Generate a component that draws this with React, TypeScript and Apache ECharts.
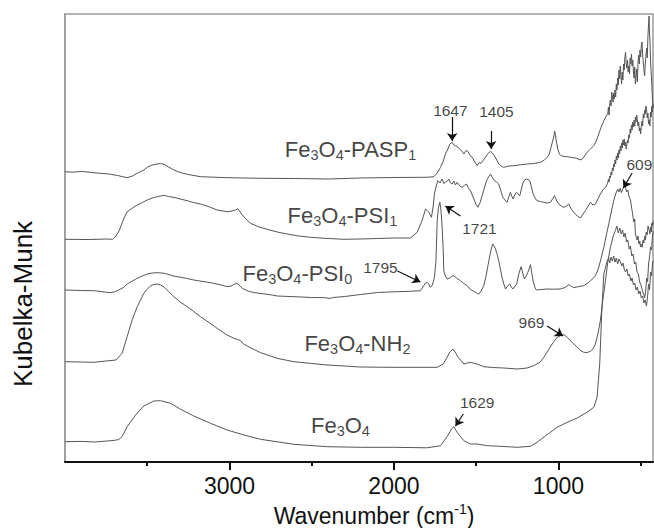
import React, { useEffect, useRef } from "react";
import * as echarts from "echarts";

const FONT = "'Liberation Sans', Arial, Helvetica, sans-serif";

// x axis (wavenumber, reversed)
const X_MIN = 425;
const X_MAX = 4000;
const MAJOR_TICKS = [1000, 2000, 3000];
const MINOR_TICKS = [500, 1500, 2500, 3500];
const Y_MAX = 448;

// spectra: [wavenumber, Kubelka-Munk (offset, arb. units)]
const fe3o4: [number, number][] = [
  [4000, 20.3], [3900, 20.6], [3820, 20.0], [3730, 21.2], [3693, 21.8], [3673, 22.5], [3653, 25.3], [3622, 35.3],
  [3571, 47], [3521, 56], [3460, 61], [3419, 61.3], [3358, 58.7], [3297, 52.7], [3217, 46], [3115, 38.7],
  [3014, 32], [2912, 27], [2811, 22.7], [2609, 17.7], [2406, 15.3], [2204, 14.7], [2001, 14.7], [1798, 14.2],
  [1717, 16.3], [1677, 25.3], [1650, 33], [1636, 35.3], [1616, 29.7], [1575, 21.3], [1535, 18], [1494, 18],
  [1433, 16.3], [1353, 15.7], [1251, 14.7], [1170, 15.7], [1130, 19.7], [1069, 27.3], [1008, 34.7], [947, 39.7],
  [886, 44], [826, 49.7], [785, 54.7], [765, 64.7], [749, 98], [737, 148], [724, 188], [704, 201],
  [695, 204], [688, 199], [680, 205], [672, 201], [664, 206], [656, 200], [648, 204], [640, 198],
  [632, 203], [623, 200], [615, 196], [607, 199], [600, 193], [592, 190], [584, 193], [576, 186],
  [568, 188], [560, 181], [552, 184], [544, 177], [536, 179], [528, 172], [520, 175], [512, 168],
  [504, 171], [496, 164], [488, 166], [480, 159], [472, 162], [465, 156], [458, 165], [452, 178],
  [446, 172], [440, 190], [434, 186], [428, 198], [424, 201],
];

const nh2: [number, number][] = [
  [4000, 100.3], [3900, 100], [3825, 99.7], [3750, 101], [3690, 102], [3653, 108.7], [3622, 125.3], [3592, 142],
  [3561, 155.3], [3521, 168.7], [3500, 173], [3480, 176], [3460, 177.5], [3440, 178], [3420, 177], [3399, 175.3],
  [3370, 170.5], [3338, 165.3], [3300, 160], [3257, 155.3], [3217, 150.5], [3176, 145.3], [3120, 139], [3075, 133.7],
  [3020, 127.5], [2973, 123.7], [2950, 122.5], [2932, 121.3], [2915, 118], [2892, 116], [2850, 112.5], [2811, 109.3],
  [2760, 106.5], [2710, 103.7], [2609, 100.3], [2500, 98.5], [2406, 97], [2300, 96], [2204, 95], [2100, 94.8],
  [2000, 94.7], [1850, 94.7], [1737, 94.7], [1700, 98], [1677, 104.7], [1660, 110], [1641, 113], [1625, 109],
  [1610, 104.7], [1585, 100], [1575, 98], [1555, 99], [1535, 99.7], [1515, 98.8], [1494, 98], [1454, 95.3],
  [1400, 94.5], [1333, 94], [1251, 93], [1191, 94], [1150, 96.3], [1110, 100], [1089, 104.7], [1065, 111],
  [1038, 118], [1012, 124], [988, 126.3], [972, 127.3], [963, 127], [945, 124.5], [927, 121.3], [906, 118],
  [886, 114.7], [866, 111.5], [846, 109.7], [826, 109.5], [805, 110.7], [790, 113], [775, 118], [760, 128],
  [745, 141.3], [730, 162], [714, 181.3], [700, 200], [684, 214.7], [670, 224], [660, 229], [654, 231.3],
  [645, 236], [636, 229], [627, 234], [618, 228], [610, 232], [602, 225], [594, 229], [586, 220],
  [578, 222], [570, 213], [562, 216], [554, 206], [546, 208], [538, 198], [530, 200], [522, 190],
  [514, 188], [506, 180], [498, 177], [490, 172], [482, 168], [476, 164], [470, 170], [464, 184],
  [458, 180], [452, 198], [446, 205], [440, 215], [434, 212], [428, 226], [424, 231],
];

const psi0: [number, number][] = [
  [4000, 172], [3900, 171.5], [3825, 171.3], [3780, 170.5], [3731, 169.3], [3700, 170], [3673, 172], [3640, 175],
  [3622, 178], [3590, 181], [3561, 183.7], [3530, 186], [3500, 188], [3470, 189], [3440, 189.3], [3400, 188.8],
  [3380, 188], [3340, 186], [3297, 184.7], [3257, 183.5], [3217, 182], [3115, 179.3], [3050, 177], [3014, 175.3],
  [2990, 176], [2975, 177.5], [2953, 178.7], [2935, 176], [2922, 173.7], [2880, 170.5], [2846, 169.3], [2740, 167],
  [2710, 166], [2560, 165], [2500, 164.5], [2420, 164.3], [2390, 163.5], [2370, 164.5], [2300, 165.5], [2204, 167.5],
  [2100, 169.5], [2000, 170.2], [1900, 170.7], [1839, 171.3], [1819, 176.3], [1808, 179], [1798, 179.7], [1788, 178],
  [1778, 174.7], [1766, 177], [1754, 184.7], [1745, 200], [1737, 241.3], [1729, 255], [1721, 259.7], [1714, 252],
  [1707, 234.7], [1700, 210], [1697, 191.3], [1687, 186], [1677, 183], [1660, 184], [1646, 186], [1636, 186.3],
  [1620, 184], [1596, 181.3], [1575, 178.5], [1555, 176.3], [1535, 172.5], [1514, 170.7], [1494, 168.5], [1484, 168],
  [1470, 171], [1454, 176.3], [1440, 186], [1423, 201.3], [1410, 212], [1399, 218], [1391, 216], [1383, 213],
  [1373, 208], [1363, 201.3], [1353, 193], [1343, 184.7], [1332, 178], [1322, 173], [1309, 176], [1296, 178],
  [1286, 175], [1276, 173], [1265, 176], [1255, 177.3], [1241, 188], [1227, 195.3], [1217, 189], [1207, 183],
  [1196, 186], [1186, 189.7], [1178, 193], [1170, 197.3], [1162, 189], [1154, 181.3], [1144, 175], [1134, 172],
  [1100, 172.5], [1069, 173], [1030, 172.8], [988, 173], [960, 174.5], [937, 177.3], [920, 175.5], [907, 174.3],
  [880, 175.3], [846, 176.3], [825, 178.5], [805, 181.3], [790, 183.5], [775, 186.3], [765, 190], [755, 194.7],
  [740, 204], [724, 214.7], [710, 226], [694, 238], [680, 249], [664, 261.3], [652, 268], [640, 273],
  [632, 270], [624, 274], [617, 269.5], [610, 272], [603, 276], [593, 275.3], [585, 270], [578, 272],
  [572, 266], [562, 262], [552, 251.3], [542, 240], [536, 243], [532, 228], [522, 222], [516, 226],
  [511, 218], [505, 221], [501, 215], [495, 218], [491, 214.7], [485, 222], [481, 219], [475, 226],
  [471, 222], [466, 230], [461, 227], [455, 236], [450, 233], [444, 228], [440, 235], [436, 230],
  [432, 239], [428, 236], [424, 241.3],
];

const psi1: [number, number][] = [
  [4000, 222.7], [3850, 222.5], [3750, 223], [3710, 222.7], [3690, 226], [3669, 232], [3642, 243.7], [3622, 250.3],
  [3590, 254], [3561, 257], [3530, 259.5], [3500, 262], [3470, 264], [3440, 265.3], [3420, 266], [3399, 266.7],
  [3370, 265.5], [3338, 264.7], [3300, 263], [3257, 261.3], [3220, 259.5], [3176, 258], [3120, 255], [3075, 252],
  [3040, 251], [3014, 250.3], [2985, 251], [2963, 252], [2949, 253.3], [2935, 250], [2922, 247], [2900, 243],
  [2872, 238.7], [2820, 235], [2771, 232.7], [2710, 230], [2649, 228], [2580, 226], [2507, 224.7], [2400, 223.5],
  [2305, 222.7], [2204, 223], [2100, 223.5], [2000, 224], [1900, 224], [1859, 229.7], [1829, 241.3], [1808, 253],
  [1798, 251.5], [1788, 249.7], [1772, 244.7], [1762, 255], [1754, 268], [1743, 276], [1733, 281.3], [1720, 279],
  [1707, 283], [1697, 278.5], [1687, 279.7], [1676, 281], [1666, 283], [1656, 279], [1646, 278], [1636, 281],
  [1626, 277], [1616, 279.7], [1600, 276], [1585, 274.7], [1572, 276.5], [1559, 278], [1547, 274], [1535, 271.3],
  [1524, 267], [1514, 263], [1502, 258], [1490, 254.7], [1477, 259], [1464, 266.3], [1450, 274], [1437, 281.3],
  [1425, 285], [1413, 288], [1400, 284], [1389, 281.3], [1376, 280], [1363, 278], [1350, 271], [1337, 264.7],
  [1325, 262], [1312, 259.7], [1302, 265], [1292, 269.7], [1284, 266], [1276, 263], [1266, 267], [1255, 269.7],
  [1245, 268], [1235, 266.3], [1225, 273], [1215, 279.7], [1205, 282], [1195, 283], [1185, 282.5], [1174, 281.3],
  [1164, 275], [1154, 268], [1142, 264], [1130, 261.3], [1110, 260.5], [1089, 259.7], [1069, 259], [1049, 259.7],
  [1036, 263], [1024, 266.3], [1010, 261], [998, 258], [983, 256], [968, 254.7], [952, 256], [937, 258],
  [922, 253], [907, 249.7], [886, 246], [866, 244], [850, 248], [836, 251.3], [820, 256], [805, 259.7],
  [790, 257], [775, 258], [760, 263], [745, 268], [730, 272], [714, 274.7],
  [700, 279], [696, 283], [692, 280], [688, 286], [684, 284], [680, 290], [676, 287], [672, 294],
  [668, 291], [664, 298], [660, 295], [656, 302], [652, 298], [648, 306], [644, 302], [640, 309],
  [636, 304], [632, 312], [628, 308], [624, 316], [620, 311], [616, 319], [612, 314], [608, 322],
  [604, 317], [600, 323], [596, 316], [592, 320], [588, 313], [584, 318], [580, 322], [576, 319],
  [572, 327], [568, 324], [564, 333], [560, 329], [556, 337], [552, 332], [548, 340], [544, 335],
  [540, 342], [536, 336], [532, 345], [528, 340], [524, 347], [520, 342], [516, 336], [512, 340],
  [508, 331], [504, 334], [500, 328], [496, 336], [492, 341], [488, 336], [484, 348], [480, 344],
  [476, 352], [472, 348], [468, 356], [464, 352], [460, 344], [456, 349], [452, 338], [448, 342],
  [444, 336], [440, 350], [436, 345], [432, 356], [428, 350], [424, 358],
];

const pasp1: [number, number][] = [
  [4000, 290.3], [3950, 289.8], [3900, 290.6], [3825, 289.3], [3780, 288.6], [3731, 288], [3680, 286.5], [3622, 284.3],
  [3590, 286], [3561, 288.7], [3521, 292], [3500, 294.7], [3470, 297], [3440, 298], [3420, 298.5], [3399, 297.7],
  [3370, 295], [3338, 292], [3300, 289.5], [3257, 287.7], [3176, 285.3], [3014, 284.3], [2811, 283.7], [2600, 283.5],
  [2400, 283], [2204, 284], [2000, 284.5], [1850, 284.7], [1798, 284.7], [1758, 285.3], [1737, 289], [1717, 294.7],
  [1700, 301], [1687, 308], [1672, 313], [1660, 318], [1646, 319.7], [1636, 317], [1626, 316.3], [1612, 315],
  [1600, 313], [1588, 311], [1575, 308], [1562, 311.5], [1551, 310.7], [1537, 306.5], [1524, 304.7], [1508, 300],
  [1494, 296.3], [1482, 299.5], [1470, 298.7], [1456, 302], [1444, 304.7], [1428, 308.5], [1413, 310.7], [1400, 308.5],
  [1389, 306.3], [1375, 302], [1363, 298], [1348, 296], [1333, 294.7], [1300, 296], [1272, 296.3], [1230, 297.2],
  [1191, 298], [1150, 298.5], [1109, 299.7], [1085, 302], [1069, 304.7], [1055, 308], [1045, 314.7], [1030, 324],
  [1022, 330.7], [1012, 320], [1004, 313], [994, 308], [984, 306.3], [965, 305.5], [947, 305.3], [920, 304.5],
  [897, 304], [880, 303], [862, 302], [845, 305], [826, 309.7], [805, 313], [785, 316.3], [770, 321],
  [755, 328], [740, 335], [724, 341.3], [710, 346],
  [700, 348], [696, 355], [692, 347], [688, 358], [684, 362], [680, 356], [676, 370], [672, 366],
  [668, 360], [664, 369], [660, 363], [656, 372], [652, 365], [648, 378], [644, 372], [640, 384],
  [636, 377], [632, 392], [628, 383], [624, 396], [620, 386], [616, 378], [612, 390], [608, 382],
  [604, 398], [600, 392], [596, 404], [592, 410], [588, 398], [584, 394], [580, 402], [576, 390],
  [572, 396], [568, 388], [564, 404], [560, 398], [556, 408], [552, 396], [548, 402], [544, 390],
  [540, 384], [536, 395], [532, 378], [528, 386], [524, 393], [520, 380], [516, 400], [512, 407],
  [508, 398], [504, 412], [500, 405], [496, 416], [492, 420], [488, 408], [484, 400], [480, 392],
  [476, 386], [472, 398], [468, 406], [464, 414], [460, 404], [456, 425], [452, 438], [449, 446],
  [446, 430], [443, 418], [440, 402], [437, 392], [434, 384], [431, 372], [428, 362], [424, 354],
];

const SPECTRA = [fe3o4, nh2, psi0, psi1, pasp1];

// spectrum labels (rich text) and where they sit
const specLabels = [
  "{n|Fe}{s|3}{n|O}{s|4}",
  "{n|Fe}{s|3}{n|O}{s|4}{n|-NH}{s|2}",
  "{n|Fe}{s|3}{n|O}{s|4}{n|-PSI}{s|0}",
  "{n|Fe}{s|3}{n|O}{s|4}{n|-PSI}{s|1}",
  "{n|Fe}{s|3}{n|O}{s|4}{n|-PASP}{s|1}",
];
const specLabelPos: [number, number][] = [
  [2325, 37], [2222, 119], [2587, 189], [2313, 247], [2264, 313],
];

// peak annotations
const peakLabels = ["1647", "1405", "1721", "1795", "609", "969", "1629"];
const peakLabelPos: [number, number][] = [
  [1657, 352], [1377, 350.5], [1480, 234], [2082, 195], [508, 298], [1164, 140], [1494, 60],
];
const peakArrows: [number, number][][] = [
  [[1646, 345], [1646, 321]],
  [[1409, 331], [1409, 313]],
  [[1596, 246], [1687, 256]],
  [[1979, 191], [1839, 180]],
  [[552, 289], [605, 274]],
  [[1069, 136], [972, 126]],
  [[1578, 48], [1626, 36]],
];

export default function App() {
  const ref = useRef<HTMLDivElement>(null);
  useEffect(() => {
    if (!ref.current) return;
    const chart = echarts.init(ref.current, null, { renderer: "svg" });
    const lineSeries = SPECTRA.map((d, i) => ({
      type: "line",
      name: "s" + i,
      data: d,
      showSymbol: false,
      symbol: "none",
      lineStyle: { color: "#555555", width: 1 },
      silent: true,
      z: 2,
    }));
    chart.setOption({
      animation: false,
      backgroundColor: "#ffffff",
      grid: {
        left: 65, right: 1, top: 14, bottom: 66,
        show: true, borderColor: "#9a9a9a", borderWidth: 1.5,
        containLabel: false, outerBoundsMode: "none",
      },
      xAxis: [
        {
          type: "value", inverse: true, min: X_MIN, max: X_MAX, position: "bottom",
          splitLine: { show: false },
          axisLine: { show: true, lineStyle: { color: "#111", width: 2 } },
          axisTick: { show: true, customValues: MAJOR_TICKS, length: 8, inside: false, lineStyle: { color: "#111", width: 2 } },
          axisLabel: {
            show: true, customValues: MAJOR_TICKS, margin: 12,
            fontSize: 23, fontFamily: FONT, color: "#111",
            formatter: (v: number) => String(v),
          },
          name: "{n|Wavenumber (cm}{p|-1}{n|)}",
          nameLocation: "middle",
          nameGap: 34,
          nameTextStyle: {
            padding: [0, 0, 0, 30],
            rich: {
              n: { fontSize: 23, fontFamily: FONT, color: "#111", lineHeight: 26 },
              p: { fontSize: 14, fontFamily: FONT, color: "#111", lineHeight: 26, padding: [0, 0, 15, 0] },
            },
          },
        },
        {
          type: "value", inverse: true, min: X_MIN, max: X_MAX, position: "bottom",
          splitLine: { show: false },
          axisLine: { show: false },
          axisTick: { show: true, customValues: MINOR_TICKS, length: 4, inside: false, lineStyle: { color: "#111", width: 2 } },
          axisLabel: { show: false },
        },
      ],
      yAxis: {
        type: "value", min: 0, max: Y_MAX,
        axisLine: { show: true, lineStyle: { color: "#9a9a9a", width: 1.5 } },
        axisTick: { show: false }, axisLabel: { show: false }, splitLine: { show: false },
      },
      graphic: [
        {
          type: "text", x: 23, y: 304, rotation: Math.PI / 2,
          style: {
            text: "Kubelka-Munk", fontSize: 26, fontFamily: FONT, fill: "#111",
            align: "center", verticalAlign: "middle",
          },
        },
      ],
      series: [
        ...lineSeries,
        {
          type: "lines",
          coordinateSystem: "cartesian2d",
          silent: true,
          symbol: ["none", "arrow"],
          symbolSize: 8,
          lineStyle: { color: "#111", width: 1.2, opacity: 1 },
          data: peakArrows.map((c) => ({ coords: c })),
          z: 4,
        },
        {
          type: "scatter",
          silent: true,
          symbolSize: 0,
          data: peakLabelPos,
          label: {
            show: true, position: "inside",
            formatter: (p: any) => peakLabels[p.dataIndex],
            fontSize: 15.5, fontFamily: FONT, color: "#111",
            align: "center", verticalAlign: "middle",
          },
          z: 5,
        },
        {
          type: "scatter",
          silent: true,
          symbolSize: 0,
          data: specLabelPos,
          label: {
            show: true, position: "inside",
            formatter: (p: any) => specLabels[p.dataIndex],
            align: "center", verticalAlign: "middle",
            rich: {
              n: { fontSize: 22, fontFamily: FONT, color: "#111", lineHeight: 26 },
              s: { fontSize: 14.5, fontFamily: FONT, color: "#111", lineHeight: 26, padding: [12, 0, 0, 0] },
            },
          },
          z: 5,
        },
      ],
    });
    return () => chart.dispose();
  }, []);
  return (
    <div
      ref={ref}
      style={{ position: "fixed", left: 0, top: 0, width: 654, height: 528, background: "#fff" }}
    />
  );
}
